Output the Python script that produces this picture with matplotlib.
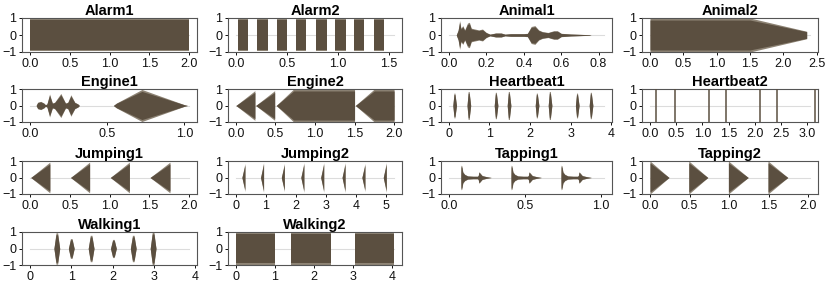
import numpy as np
import matplotlib.pyplot as plt

plt.rcParams['font.family'] = ['Liberation Sans', 'DejaVu Sans']

DARK = '#5b4f40'
LIGHT = '#8d8374'
ZERO = '#dcdcdc'

titles = ['Alarm1', 'Alarm2', 'Animal1', 'Animal2',
          'Engine1', 'Engine2', 'Heartbeat1', 'Heartbeat2',
          'Jumping1', 'Jumping2', 'Tapping1', 'Tapping2',
          'Walking1', 'Walking2']

# clip length in seconds (grey zero line)
durations = [2.0, 1.55, 0.83, 2.4,
             1.03, 2.0, 3.83, 3.05,
             2.0, 5.26, 1.02, 2.02,
             3.85, 4.05]

xticks = [[0, 0.5, 1, 1.5, 2], [0, 0.5, 1, 1.5], [0, 0.2, 0.4, 0.6, 0.8], [0, 0.5, 1, 1.5, 2, 2.5],
          [0, 0.5, 1], [0, 0.5, 1, 1.5, 2], [0, 1, 2, 3, 4], [0, 0.5, 1, 1.5, 2, 2.5, 3],
          [0, 0.5, 1, 1.5, 2], [0, 1, 2, 3, 4, 5], [0, 0.5, 1], [0, 0.5, 1, 1.5, 2],
          [0, 1, 2, 3, 4], [0, 1, 2, 3, 4]]
int_ticks = ['Heartbeat1', 'Jumping2', 'Walking1', 'Walking2']

# envelopes: (times, peak amplitudes) per burst
alarm1 = [([0.0, 2.0], [0.97, 0.97])]

alarm2_on = [0.02, 0.21, 0.40, 0.59, 0.78, 0.97, 1.16, 1.35]
alarm2_off = [0.12, 0.31, 0.50, 0.69, 0.89, 1.08, 1.26, 1.45]
alarm2 = [([s, e], [0.97, 0.97]) for s, e in zip(alarm2_on, alarm2_off)]

animal1 = [([0.04, 0.05, 0.058, 0.065, 0.075, 0.085, 0.10, 0.11, 0.12, 0.14, 0.16, 0.18, 0.20,
             0.22, 0.25, 0.28, 0.30, 0.33, 0.40, 0.42, 0.44, 0.46, 0.48, 0.50, 0.53, 0.56,
             0.58, 0.60, 0.65, 0.75, 0.76],
            [0.0, 0.3, 0.85, 0.4, 0.55, 0.3, 0.7, 0.75, 0.4, 0.35, 0.3, 0.35, 0.15,
             0.05, 0.12, 0.12, 0.05, 0.08, 0.08, 0.1, 0.5, 0.55, 0.3, 0.2, 0.15, 0.25,
             0.25, 0.1, 0.06, 0.02, 0.0])]

animal2 = [([0.0, 1.5, 2.35], [1.0, 1.0, 0.22])]

engine1 = [([0.04, 0.05, 0.07, 0.09, 0.10, 0.11, 0.127, 0.145, 0.16, 0.20, 0.23, 0.245,
             0.265, 0.29, 0.31, 0.32],
            [0.0, 0.2, 0.25, 0.15, 0.05, 0.1, 0.7, 0.15, 0.2, 0.73, 0.15, 0.2,
             0.65, 0.2, 0.1, 0.0]),
           ([0.54, 0.56, 0.725, 1.0, 1.02], [0.0, 0.15, 0.97, 0.05, 0.0])]

engine2 = [([0.0, 0.24], [0.0, 0.9]), ([0.25, 0.49], [0.0, 0.9]),
           ([0.51, 0.73, 1.5], [0.0, 1.0, 1.0]), ([1.51, 1.75, 2.0], [0.0, 1.0, 1.0])]

heartbeat1_t = [0.14, 0.49, 1.16, 1.48, 2.17, 2.49, 3.16, 3.50]
heartbeat1_a = [0.75, 0.85, 0.8, 0.85, 0.75, 0.85, 0.75, 0.8]

heartbeat2_t = [0.12, 0.47, 1.12, 1.44, 2.1, 2.43, 3.15]
heartbeat2_a = [1.0, 1.0, 1.0, 1.0, 1.0, 1.0, 1.0]

jumping1_on = [0.01, 0.51, 1.01, 1.51]
jumping1_off = [0.25, 0.75, 1.25, 1.76]
jumping1 = [([s, e], [0.0, 0.93]) for s, e in zip(jumping1_on, jumping1_off)]

jumping2_t = [0.30, 0.92, 1.61, 2.26, 2.92, 3.63, 4.29, 5.0]
jumping2_a = [0.85, 0.9, 0.85, 0.9, 0.9, 0.9, 0.85, 0.9]

tapping1_hits = [0.079, 0.408, 0.736]
tapping1_dt = [0, 0.001, 0.007, 0.013, 0.025, 0.045, 0.08, 0.11, 0.115, 0.118, 0.124, 0.14, 0.17, 0.2]
tapping1_amp = [0, 0.75, 0.7, 0.35, 0.2, 0.1, 0.08, 0.08, 0.15, 0.35, 0.3, 0.12, 0.05, 0]
tapping1 = [([g + d for d in tapping1_dt], tapping1_amp) for g in tapping1_hits]

tapping2_on = [0.0, 0.49, 0.99, 1.49]
tapping2_off = [0.24, 0.73, 1.24, 1.74]
tapping2 = [([s, e], [1.0, 0.0]) for s, e in zip(tapping2_on, tapping2_off)]

walking1_t = [0.65, 1.0, 1.48, 2.02, 2.5, 2.98]
walking1_a = [0.95, 0.6, 0.8, 0.55, 0.8, 1.0]

walking2_on = [0.0, 1.42, 3.04]
walking2_off = [1.0, 2.43, 4.05]
walking2 = [([s, e], [1.0, 1.0]) for s, e in zip(walking2_on, walking2_off)]


def spikes(times, amps, offs, shape):
    return [([t + o for o in offs], [a * f for f in shape]) for t, a in zip(times, amps)]


envelopes = {
    'Alarm1': alarm1, 'Alarm2': alarm2, 'Animal1': animal1, 'Animal2': animal2,
    'Engine1': engine1, 'Engine2': engine2,
    'Heartbeat1': spikes(heartbeat1_t, heartbeat1_a, [-0.04, -0.012, 0.012, 0.05], [0, 1, 1, 0]),
    'Heartbeat2': [],
    'Jumping1': jumping1,
    'Jumping2': spikes(jumping2_t, jumping2_a, [-0.1, 0.0], [0, 1]),
    'Tapping1': tapping1, 'Tapping2': tapping2,
    'Walking1': spikes(walking1_t, walking1_a, [-0.07, -0.02, 0.02, 0.07], [0, 1, 1, 0]),
    'Walking2': walking2,
}

# axes boxes in pixels (left, right) per column, (top, bottom) per row
W, H = 830, 283
cols = [(22, 197), (228, 402), (441, 612), (642, 818)]
rows = [(18, 52), (89, 122), (161, 194), (232, 265)]

fig = plt.figure(figsize=(W / 100, H / 100), dpi=100)

for i, name in enumerate(titles):
    l, r = cols[i % 4]
    t, b = rows[i // 4]
    ax = fig.add_axes([l / W, 1 - b / H, (r - l) / W, (b - t) / H])

    ax.plot([0, durations[i]], [0, 0], color=ZERO, lw=0.8, zorder=1)
    for tt, aa in envelopes[name]:
        aa = np.array(aa)
        ax.fill_between(tt, -aa, aa, color=LIGHT, lw=0, zorder=2)
        ax.fill_between(tt, -0.88 * aa, 0.88 * aa, color=DARK, lw=0, zorder=3)
    if name == 'Heartbeat2':
        ax.vlines(heartbeat2_t, -np.array(heartbeat2_a), heartbeat2_a, color=DARK, lw=1.1, zorder=3)

    ax.set_xlim(-0.05 * durations[i], 1.05 * durations[i])
    ax.set_ylim(-1, 1)
    ax.set_xticks(xticks[i])
    if name in int_ticks:
        ax.set_xticklabels([str(int(v)) for v in xticks[i]])
    else:
        ax.set_xticklabels(['%.1f' % v for v in xticks[i]])
    ax.set_yticks([-1, 0, 1])
    ax.tick_params(labelsize=9, length=2.5, width=0.7, pad=1.5, colors='#111111')
    for sp in ax.spines.values():
        sp.set_linewidth(0.8)
        sp.set_color('#555555')
    ax.set_title(name, fontsize=10.5, fontweight='bold', pad=2)

plt.savefig('out.png', dpi=100)
